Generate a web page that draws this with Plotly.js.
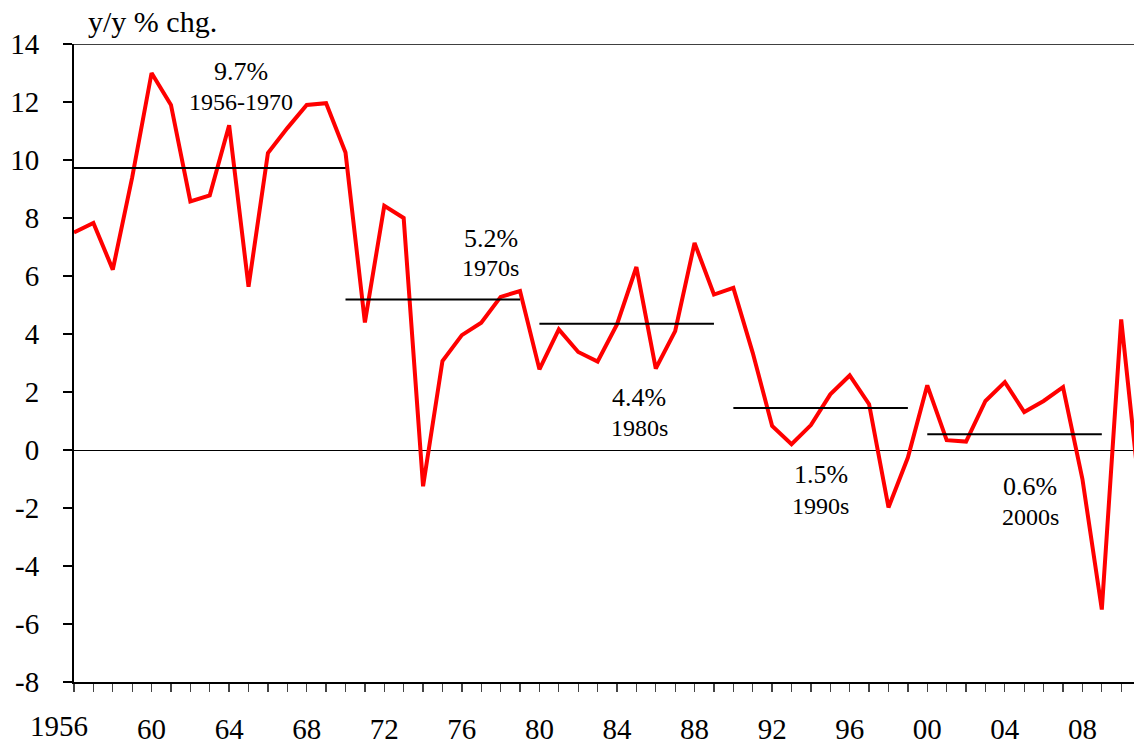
<!DOCTYPE html>
<html>
<head>
<meta charset="utf-8">
<script src="https://cdn.plot.ly/plotly-3.0.1.min.js"></script>
<style>html,body{margin:0;padding:0;background:#fff;}#chart{width:1134px;height:744px;}</style>
</head>
<body>
<div id="chart"></div>
<script>
// Data
const years = [1956,1957,1958,1959,1960,1961,1962,1963,1964,1965,
  1966,1967,1968,1969,1970,1971,1972,1973,1974,1975,
  1976,1977,1978,1979,1980,1981,1982,1983,1984,1985,
  1986,1987,1988,1989,1990,1991,1992,1993,1994,1995,
  1996,1997,1998,1999,2000,2001,2002,2003,2004,2005,
  2006,2007,2008,2009,2010,2011];
const growth = [7.5,7.83,6.22,9.4,13.0,11.9,8.57,8.78,11.2,5.63,
  10.24,11.1,11.9,11.96,10.26,4.4,8.42,8.0,-1.25,3.07,
  3.96,4.39,5.28,5.48,2.78,4.16,3.38,3.05,4.33,6.31,
  2.81,4.10,7.14,5.36,5.59,3.35,0.83,0.20,0.86,1.92,
  2.57,1.58,-1.98,-0.26,2.23,0.34,0.29,1.69,2.34,1.31,
  1.69,2.17,-1.0,-5.5,4.5,-1.8];

const avgStart = [1956, 1970, 1980, 1990, 2000];
const avgEnd   = [1970, 1979, 1989, 1999, 2009];
const avgValue = [9.72, 5.19, 4.35, 1.45, 0.54];
const avgPctLabel = ["9.7%", "5.2%", "4.4%", "1.5%", "0.6%"];
const avgPeriodLabel = ["1956-1970", "1970s", "1980s", "1990s", "2000s"];
const labelX = [1964.6, 1977.5, 1985.15, 1994.5, 2005.3];
const labelPctY = [13.05, 7.28, 1.81, -0.83, -1.26];
const labelPeriodY = [12.01, 6.28, 0.77, -1.92, -2.32];

const tickYears = years.slice(0, 55);
const tickLabelOf = {1960:"60",1964:"64",1968:"68",1972:"72",1976:"76",1980:"80",1984:"84",1988:"88",1992:"92",1996:"96",2000:"00",2004:"04",2008:"08"};
const firstYearLabel = "1956";
const yTickVals = [-8,-6,-4,-2,0,2,4,6,8,10,12,14];
const yTickText = ["-8","-6","-4","-2","0","2","4","6","8","10","12","14"];
const yTitle = "y/y % chg.";

const FONT = "Liberation Serif, Times New Roman, serif";

const traces = [{
  x: years, y: growth, type: "scatter", mode: "lines",
  line: {color: "#ff0000", width: 4}, hoverinfo: "skip"
}];
for (let i = 0; i < avgValue.length; i++) {
  traces.push({
    x: [avgStart[i], avgEnd[i]], y: [avgValue[i], avgValue[i]],
    type: "scatter", mode: "lines", line: {color: "#000", width: 2}, hoverinfo: "skip"
  });
}

const annotations = [];
for (let i = 0; i < avgValue.length; i++) {
  annotations.push({x: labelX[i], y: labelPctY[i], xref: "x", yref: "y", text: avgPctLabel[i],
    showarrow: false, font: {family: FONT, size: 26, color: "#000"}});
  annotations.push({x: labelX[i], y: labelPeriodY[i], xref: "x", yref: "y", text: avgPeriodLabel[i],
    showarrow: false, font: {family: FONT, size: 24, color: "#000"}});
}
annotations.push({x: 1956, y: 0, xref: "x", yref: "paper", yanchor: "top", xanchor: "center",
  xshift: -15, yshift: -26, text: firstYearLabel, showarrow: false,
  font: {family: FONT, size: 29, color: "#000"}});
annotations.push({x: 0.011, y: 1, xref: "paper", yref: "paper", xanchor: "left", yanchor: "bottom",
  yshift: 4, text: yTitle, showarrow: false, font: {family: FONT, size: 30, color: "#000"}});

const layout = {
  width: 1134, height: 744,
  margin: {l: 74, r: 0, t: 44, b: 62},
  paper_bgcolor: "#fff", plot_bgcolor: "#fff",
  showlegend: false,
  font: {family: FONT, color: "#000"},
  xaxis: {
    range: [1956, 2010.66], showgrid: false, zeroline: false,
    showline: true, linecolor: "#000", linewidth: 2,
    tickmode: "array", tickvals: tickYears,
    ticktext: tickYears.map(y => tickLabelOf[y] || ""),
    ticks: "outside", ticklen: 8, tickwidth: 1.3, tickcolor: "#444",
    tickfont: {family: FONT, size: 29, color: "#000"},
    ticklabelstandoff: 12
  },
  yaxis: {
    range: [-8, 14], tickmode: "array", tickvals: yTickVals, ticktext: yTickText,
    showgrid: false,
    zeroline: true, zerolinecolor: "#000", zerolinewidth: 1,
    showline: true, linecolor: "#000", linewidth: 2,
    ticks: "outside", ticklen: 9, tickwidth: 1.3, tickcolor: "#000",
    tickfont: {family: FONT, size: 29, color: "#000"},
    ticklabelstandoff: 18
  },
  shapes: [{type: "line", xref: "paper", yref: "y", x0: 0, x1: 1, y0: 14, y1: 14,
    line: {color: "#000", width: 1.3}}],
  annotations: annotations
};

Plotly.newPlot("chart", traces, layout, {displayModeBar: false, staticPlot: true});
</script>
</body>
</html>
